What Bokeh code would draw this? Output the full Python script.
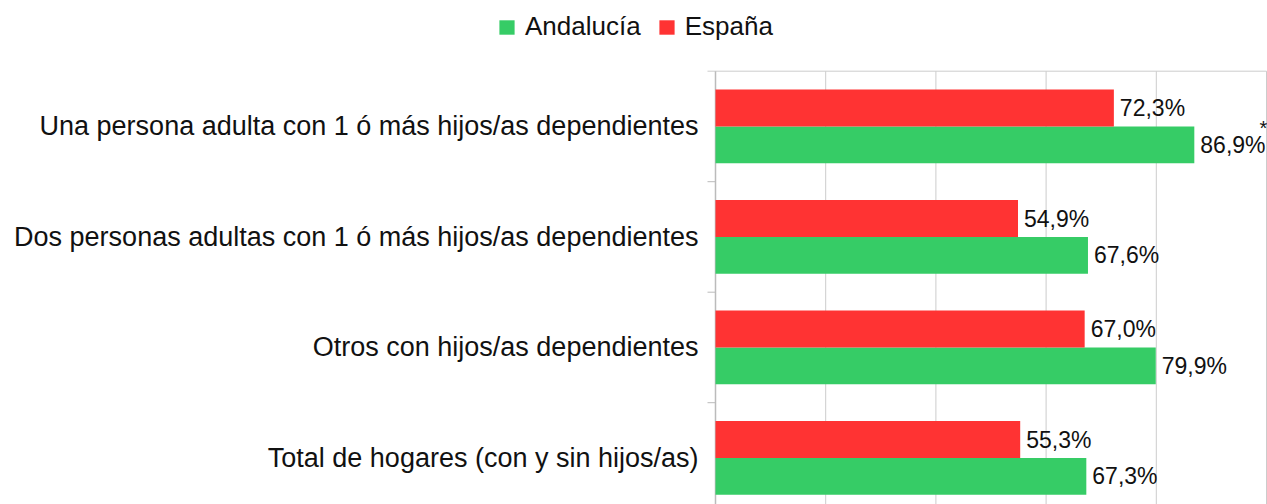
from bokeh.plotting import figure
from bokeh.models import (ColumnDataSource, Range1d, Legend, LegendItem)
from bokeh.core.properties import value
from bokeh.embed import file_html
from bokeh.resources import INLINE

categories = [
    "Una persona adulta con 1 ó más hijos/as dependientes",
    "Dos personas adultas con 1 ó más hijos/as dependientes",
    "Otros con hijos/as dependientes",
    "Total de hogares (con y sin hijos/as)",
]
andalucia = [86.9, 67.6, 79.9, 67.3]
espana = [72.3, 54.9, 67.0, 55.3]
notes = ["*", "", "", ""]
x_ticks = [0, 20, 40, 60, 80, 100]

GREEN = "#36CC66"
RED = "#FF3333"
FONT = "Liberation Sans"
TXT = "#111111"

W, H = 1267, 504
X0_PX = 715          # pixel of value 0
X100_PX = 1266       # pixel of value 100
TOP_PX = 70.7        # pixel of the top category boundary
BAND_PX = 110.5      # pixel height of one category band

n = len(categories)
centers = [n - 0.5 - i for i in range(n)]
xu = (X100_PX - X0_PX) / 100.0          # px per unit
x_start = -X0_PX / xu
x_end = (W - X0_PX) / xu
y_end = n + TOP_PX / BAND_PX
y_start = n - (H - TOP_PX) / BAND_PX


def fmt(v):
    return f"{v:.1f}".replace(".", ",") + "%"


src_and = ColumnDataSource(dict(
    y=[c - 1 / 6 for c in centers], v=andalucia,
    lab=[fmt(v) for v in andalucia], note=notes))
src_esp = ColumnDataSource(dict(
    y=[c + 1 / 6 for c in centers], v=espana,
    lab=[fmt(v) for v in espana]))

p = figure(width=W, height=H, output_backend="svg", toolbar_location=None,
           x_range=Range1d(x_start, x_end), y_range=Range1d(y_start, y_end),
           min_border=0)
p.outline_line_color = None
p.background_fill_color = "white"
p.border_fill_color = "white"
p.xaxis.visible = False
p.yaxis.visible = False
p.xgrid.visible = False
p.ygrid.visible = False

# value grid lines (only within the plot area)
p.segment(x0=x_ticks[1:], x1=x_ticks[1:], y0=y_start, y1=n,
          line_color="#CCCCCC", line_width=1)
# top border of the plot area
tick_len = 8 / xu
p.segment(x0=-tick_len, x1=x_ticks[-1], y0=n, y1=n,
          line_color="#CCCCCC", line_width=1)
# category axis line and boundary ticks
p.segment(x0=0, x1=0, y0=y_start, y1=n, line_color="#BBBBBB", line_width=1.5)
bounds = list(range(1, n))
p.segment(x0=[-tick_len] * len(bounds), x1=[0] * len(bounds), y0=bounds, y1=bounds,
          line_color="#BBBBBB", line_width=1)

g = p.hbar(y="y", left=0, right="v", height=1 / 3, source=src_and,
           fill_color=GREEN, line_color=None)
r = p.hbar(y="y", left=0, right="v", height=1 / 3, source=src_esp,
           fill_color=RED, line_color=None)

p.text(x="v", y="y", text="lab", source=src_and, x_offset=6,
       text_font=value(FONT), text_font_size="23px", text_color=TXT,
       text_baseline="middle", text_align="left")
p.text(x="v", y="y", text="lab", source=src_esp, x_offset=6,
       text_font=value(FONT), text_font_size="23px", text_color=TXT,
       text_baseline="middle", text_align="left")
p.text(x="v", y="y", text="note", source=src_and, x_offset=73, y_offset=-17,
       text_font=value(FONT), text_font_size="20px", text_color=TXT,
       text_baseline="alphabetic", text_align="right")

# category labels
p.text(x=[0] * n, y=centers, text=categories, x_offset=-17,
       text_font=value(FONT), text_font_size="27px", text_color=TXT,
       text_baseline="middle", text_align="right")

legend = Legend(items=[LegendItem(label="Andalucía", renderers=[g]),
                       LegendItem(label="España", renderers=[r])],
                orientation="horizontal", location=(497, H - 42),
                glyph_width=19, glyph_height=18, label_standoff=9, spacing=16,
                padding=0, margin=0, border_line_color=None,
                background_fill_alpha=0,
                label_text_font=FONT, label_text_font_size="26px",
                label_text_color=TXT)
p.add_layout(legend, "center")

open("out.html", "w").write(file_html(p, INLINE))
